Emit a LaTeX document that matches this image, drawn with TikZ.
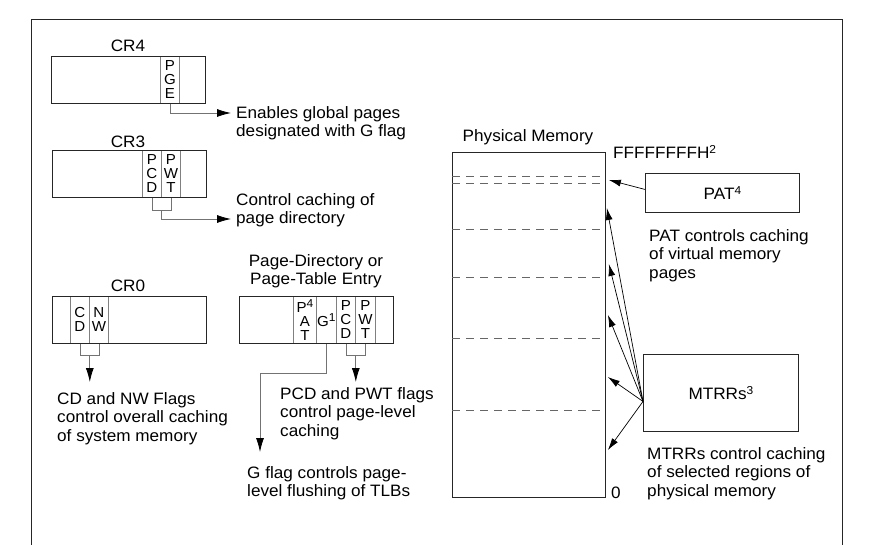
\documentclass[tikz,border=0pt]{standalone}
\usepackage{fontspec}
\setmainfont[FakeStretch=1.04]{Liberation Sans}
\usetikzlibrary{arrows.meta,calc}
\newcommand{\supr}[1]{\raisebox{0.33em}{\fontsize{11.5}{11.5}\selectfont #1}}
\begin{document}
\begin{tikzpicture}[x=1pt,y=-1pt,
 reg/.style={draw=black!85, line width=0.9pt, minimum width=154pt, minimum height=47pt, inner sep=0pt, anchor=north west},
 fld/.style={draw=black!50, line width=0.8pt, minimum height=47pt, inner sep=0pt, anchor=north west, align=center, font=\fontsize{14.5}{14}\selectfont},
 lbl/.style={inner sep=0pt, font=\fontsize{16.5}{18.5}\selectfont},
 txt/.style={inner sep=0pt, anchor=north west, align=left, font=\fontsize{16.5}{18.5}\selectfont},
 conn/.style={draw=black!55, line width=0.8pt},
 bigarr/.style={conn, -{Latex[length=14pt,width=8pt,color=black]}},
 memarr/.style={draw=black, line width=0.7pt, -{Latex[length=12pt,width=7pt]}},
 dsh/.style={draw=black!60, line width=0.8pt, dash pattern=on 8pt off 6pt},
 bigbox/.style={draw=black!85, line width=0.9pt, inner sep=0pt, anchor=north west, font=\fontsize{16.5}{18.5}\selectfont}
]
\useasboundingbox (0,0) rectangle (869,545);
\fill[white] (0,0) rectangle (869,545);
\draw[black!85, line width=0.9pt] (31,545) -- (31,19) -- (842,19) -- (842,545);

% CR4
\node[lbl] (cr4l) at (128,46) {CR4};
\node[fld, minimum width=19pt] (pge) at (160,56) {P\\G\\E};
\node[reg] (cr4) at (51,56) {};
\node[txt] (enab) at (236,106) {Enables global pages\\designated with G flag};
\draw[bigarr] (pge.south) |- ($(enab.north west)+(-5,7)$);

% CR3
\node[lbl] (cr3l) at (128,142) {CR3};
\node[fld, minimum width=19pt] (pcd3) at (142,150) {P\\C\\D};
\node[fld, minimum width=19pt] (pwt3) at (161,150) {P\\W\\T};
\node[reg] (cr3) at (52,150) {};
\node[txt] (ctl) at (236,193) {Control caching of\\page directory};
\draw[conn] (pcd3.south) -- ++(0,13) -| (pwt3.south);
\draw[bigarr] ($(pcd3.south east)+(0,13)$) |- ($(ctl.north west)+(-5,26)$);

% CR0
\node[lbl] (cr0l) at (128,286) {CR0};
\node[fld, minimum width=19pt] (cd) at (70,296) {C\\D};
\node[fld, minimum width=19pt] (nw) at (89,296) {N\\W};
\node[reg] (cr0) at (52,296) {};
\node[txt] (cdnw) at (57,392) {CD and NW Flags\\control overall caching\\of system memory};
\draw[conn] (cd.south) -- ++(0,12) -| (nw.south);
\draw[bigarr] ($(cd.south east)+(0,12)$) -- ($(cd.south east |- cdnw.north)+(0,-10)$);

% Page-directory entry
\node[lbl, align=center] (pdel) at (316,271) {Page-Directory or\\Page-Table Entry};
\node[fld, minimum width=23pt] (pat2) at (293,296) {P\supr{4}\\A\\T};
\node[fld, minimum width=20pt] (g) at (316,296) {G\supr{1}};
\node[fld, minimum width=19pt] (pcd2) at (336,296) {P\\C\\D};
\node[fld, minimum width=20pt] (pwt2) at (355,296) {P\\W\\T};
\node[reg] (pde) at (239,296) {};
\node[txt] (pcdt) at (280,387) {PCD and PWT flags\\control page-level\\caching};
\node[txt] (gflag) at (247,466) {G flag controls page-\\level flushing of TLBs};
\draw[conn] (pcd2.south) -- ++(0,12) -| (pwt2.south);
\draw[bigarr] ($(pcd2.south east)+(0,12)$) -- ($(pcd2.south east |- pcdt.north)+(0,-5)$);
\draw[bigarr] (g.south) -- ++(0,30) -| ($(gflag.north west)+(13,-14)$);

% Physical memory
\node[lbl] (meml) at (528,137) {Physical Memory};
\node[bigbox, minimum width=153pt, minimum height=345pt] (mem) at (452,152) {};
\foreach \yy in {176,183,229,277,338,410}
  \draw[dsh] (mem.west |- 0,\yy) -- (mem.east |- 0,\yy);
\node[lbl, anchor=west] (ftop) at (613,152) {FFFFFFFFH\supr{2}};
\node[lbl] (fzero) at (616,493) {0};

% PAT
\node[bigbox, minimum width=154pt, minimum height=39pt] (pat) at (645,173) {PAT\supr{4}};
\node[txt] (patt) at (649,229) {PAT controls caching\\of virtual memory\\pages};
\draw[memarr] ($(pat.west)+(0,-3.5)$) -- ($(mem.north east)+(3,28)$);

% MTRRs
\node[bigbox, minimum width=155pt, minimum height=77pt] (mtrr) at (643,354) {MTRRs\supr{3}};
\node[txt] (mtrrt) at (647,447) {MTRRs control caching\\of selected regions of\\physical memory};
\coordinate (src) at ($(mtrr.west)+(0,8.5)$);
\foreach \dx/\dy in {1/56, 3/112, 2/163, 2/225, 2/298}
  \draw[memarr] (src) -- ($(mem.north east)+(\dx,\dy)$);
\end{tikzpicture}
\end{document}
